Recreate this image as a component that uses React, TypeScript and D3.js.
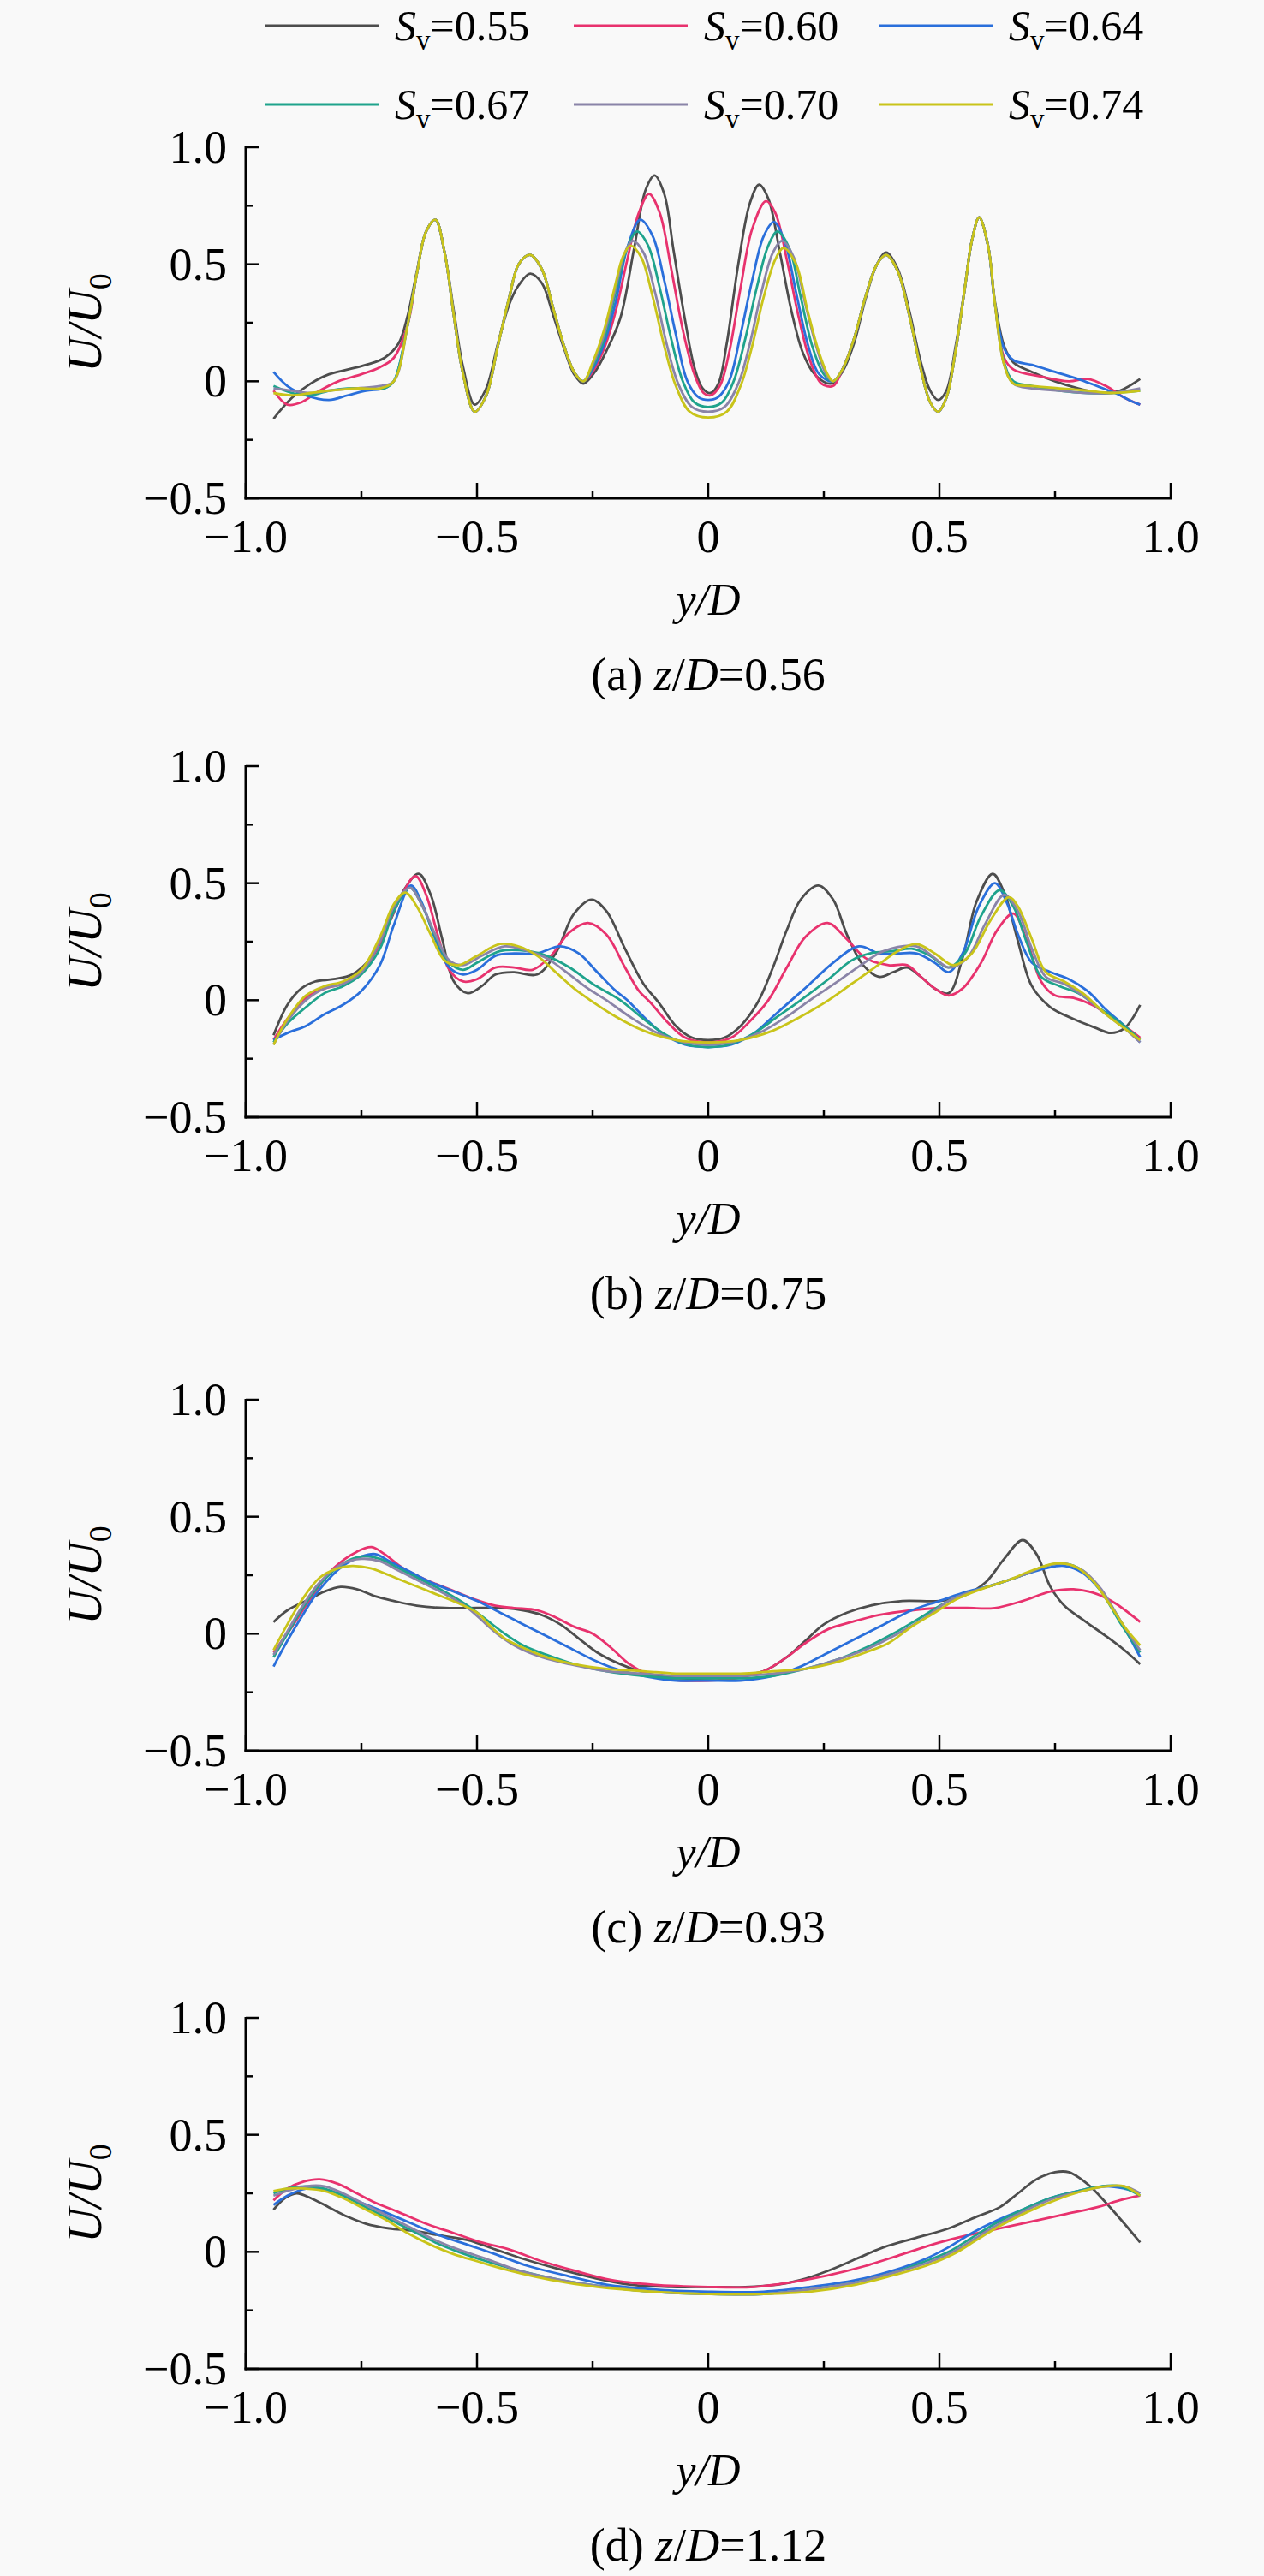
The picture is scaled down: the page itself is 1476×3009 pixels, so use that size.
import * as d3 from "d3"

type Pt = [number, number]

// legend / series
const svLabels = ["0.55", "0.60", "0.64", "0.67", "0.70", "0.74"]
const svColors = ["#4d4d4d", "#e8326e", "#2a6fdb", "#1fa38c", "#8a84a8", "#c9c41a"]

// axis ticks
const xTicksMajor = [-1, -0.5, 0, 0.5, 1]
const xTickText = ["\u22121.0", "\u22120.5", "0", "0.5", "1.0"]
const xTicksMinor = [-0.75, -0.25, 0.25, 0.75]
const yTicksMajor = [1, 0.5, 0, -0.5]
const yTickText = ["1.0", "0.5", "0", "\u22120.5"]
const yTicksMinor = [0.75, 0.25, -0.25]

// captions
const panelLetters = ["(a)", "(b)", "(c)", "(d)"]
const panelZD = ["0.56", "0.75", "0.93", "1.12"]

// ---------- (a) z/D = 0.56 ----------
const aPeaksLeft: Pt[] = [[-0.65,0.24],[-0.63,0.46],[-0.61,0.64],[-0.59,0.69],[-0.57,0.55],[-0.55,0.28],[-0.53,0.03],[-0.505,-0.13],[-0.48,-0.06],[-0.455,0.15],[-0.43,0.36],[-0.41,0.50],[-0.385,0.54],[-0.36,0.48],[-0.335,0.31],[-0.31,0.14],[-0.29,0.04],[-0.27,0.0]]
const aPeaksRight: Pt[] = [[0.29,0.05],[0.315,0.18],[0.34,0.36],[0.365,0.50],[0.385,0.54],[0.41,0.47],[0.435,0.28],[0.46,0.05],[0.48,-0.09],[0.497,-0.13],[0.515,-0.07],[0.535,0.13],[0.555,0.40],[0.57,0.60],[0.586,0.70],[0.605,0.58],[0.62,0.33]]

const a055: Pt[] = [[-0.94,-0.16],[-0.90,-0.07],[-0.86,-0.01],[-0.82,0.03],[-0.78,0.05],[-0.74,0.07],[-0.70,0.10],[-0.67,0.16],[-0.65,0.28],[-0.63,0.47],[-0.61,0.64],[-0.59,0.69],[-0.57,0.55],[-0.55,0.30],[-0.53,0.06],[-0.505,-0.10],[-0.48,-0.03],[-0.455,0.16],[-0.43,0.33],[-0.41,0.41],[-0.385,0.46],[-0.36,0.42],[-0.335,0.28],[-0.31,0.13],[-0.29,0.03],[-0.27,-0.01],[-0.245,0.04],[-0.22,0.13],[-0.19,0.27],[-0.16,0.57],[-0.135,0.82],[-0.116,0.88],[-0.095,0.80],[-0.075,0.56],[-0.05,0.26],[-0.03,0.06],[-0.012,-0.03],[0.005,-0.05],[0.022,-0.01],[0.04,0.16],[0.065,0.50],[0.09,0.76],[0.11,0.84],[0.13,0.78],[0.155,0.55],[0.18,0.30],[0.205,0.12],[0.23,0.03],[0.265,-0.01],[0.29,0.04],[0.315,0.16],[0.34,0.35],[0.365,0.50],[0.385,0.55],[0.41,0.48],[0.435,0.30],[0.46,0.08],[0.48,-0.04],[0.497,-0.08],[0.515,-0.04],[0.535,0.15],[0.555,0.40],[0.57,0.60],[0.586,0.70],[0.605,0.58],[0.62,0.34],[0.64,0.15],[0.66,0.08],[0.70,0.04],[0.75,0.0],[0.80,-0.03],[0.85,-0.05],[0.89,-0.04],[0.934,0.01]]

const a060Left: Pt[] = [[-0.94,-0.04],[-0.91,-0.10],[-0.88,-0.09],[-0.84,-0.04],[-0.80,0.0],[-0.75,0.03],[-0.71,0.06],[-0.68,0.10]]
const a060Mid: Pt[] = [[-0.25,0.04],[-0.225,0.14],[-0.20,0.30],[-0.175,0.52],[-0.15,0.72],[-0.128,0.80],[-0.105,0.72],[-0.08,0.48],[-0.055,0.22],[-0.03,0.03],[-0.01,-0.05],[0.005,-0.06],[0.025,-0.02],[0.045,0.12],[0.07,0.40],[0.095,0.65],[0.125,0.77],[0.145,0.72],[0.17,0.52],[0.195,0.28],[0.22,0.09],[0.245,-0.01],[0.27,-0.02]]
const a060Right: Pt[] = [[0.64,0.10],[0.66,0.05],[0.72,0.02],[0.78,0.0],[0.82,0.01],[0.86,-0.02],[0.90,-0.07],[0.934,-0.10]]

const a064Left: Pt[] = [[-0.94,0.04],[-0.91,-0.02],[-0.87,-0.06],[-0.82,-0.08],[-0.78,-0.06],[-0.74,-0.04],[-0.70,-0.03],[-0.68,0.0]]
const a064Mid: Pt[] = [[-0.25,0.05],[-0.225,0.16],[-0.20,0.34],[-0.175,0.57],[-0.147,0.69],[-0.12,0.62],[-0.095,0.43],[-0.07,0.20],[-0.045,0.0],[-0.02,-0.07],[0.0,-0.08],[0.02,-0.07],[0.045,0.0],[0.07,0.20],[0.095,0.43],[0.12,0.62],[0.142,0.68],[0.165,0.60],[0.19,0.38],[0.215,0.16],[0.24,0.03],[0.27,0.0]]
const a064Right: Pt[] = [[0.64,0.14],[0.66,0.09],[0.70,0.07],[0.75,0.04],[0.80,0.01],[0.84,-0.02],[0.88,-0.05],[0.91,-0.08],[0.934,-0.10]]

const a067Left: Pt[] = [[-0.94,-0.02],[-0.90,-0.05],[-0.86,-0.06],[-0.82,-0.04],[-0.78,-0.03],[-0.74,-0.03],[-0.70,-0.03],[-0.68,0.0]]
const a067Mid: Pt[] = [[-0.25,0.06],[-0.225,0.18],[-0.20,0.38],[-0.175,0.57],[-0.154,0.64],[-0.13,0.58],[-0.105,0.40],[-0.08,0.18],[-0.055,0.0],[-0.03,-0.09],[0,-0.11],[0.03,-0.09],[0.055,0.0],[0.08,0.18],[0.105,0.40],[0.13,0.58],[0.15,0.64],[0.175,0.57],[0.20,0.36],[0.225,0.15],[0.25,0.03],[0.27,0.0]]
const a067Right: Pt[] = [[0.64,0.08],[0.66,0.0],[0.70,-0.02],[0.76,-0.04],[0.82,-0.05],[0.87,-0.05],[0.934,-0.04]]

const a070Left: Pt[] = [[-0.94,-0.03],[-0.90,-0.04],[-0.86,-0.05],[-0.82,-0.04],[-0.76,-0.03],[-0.71,-0.02],[-0.68,0.0]]
const a070Mid: Pt[] = [[-0.25,0.07],[-0.225,0.20],[-0.20,0.40],[-0.18,0.55],[-0.163,0.60],[-0.14,0.55],[-0.115,0.38],[-0.09,0.16],[-0.065,-0.01],[-0.035,-0.11],[0,-0.13],[0.035,-0.11],[0.065,-0.01],[0.09,0.16],[0.115,0.38],[0.14,0.55],[0.16,0.60],[0.185,0.53],[0.21,0.33],[0.235,0.14],[0.255,0.03],[0.27,0.0]]
const a070Right: Pt[] = [[0.64,0.07],[0.66,-0.01],[0.70,-0.03],[0.76,-0.04],[0.82,-0.05],[0.87,-0.05],[0.934,-0.03]]

const a074Left: Pt[] = [[-0.94,-0.05],[-0.90,-0.06],[-0.86,-0.05],[-0.82,-0.04],[-0.76,-0.03],[-0.71,-0.03],[-0.68,0.0]]
const a074Mid: Pt[] = [[-0.25,0.08],[-0.225,0.22],[-0.20,0.42],[-0.185,0.53],[-0.168,0.58],[-0.145,0.53],[-0.12,0.36],[-0.095,0.15],[-0.07,-0.02],[-0.04,-0.13],[0,-0.155],[0.04,-0.13],[0.07,-0.02],[0.095,0.15],[0.12,0.36],[0.145,0.52],[0.163,0.57],[0.19,0.50],[0.215,0.30],[0.24,0.12],[0.258,0.03],[0.27,0.0]]
const a074Right: Pt[] = [[0.64,0.07],[0.66,-0.01],[0.70,-0.02],[0.76,-0.03],[0.82,-0.04],[0.87,-0.05],[0.934,-0.04]]

// ---------- (b) z/D = 0.75 ----------
const b055: Pt[] = [[-0.94,-0.15],[-0.91,-0.02],[-0.88,0.05],[-0.85,0.08],[-0.81,0.09],[-0.77,0.11],[-0.73,0.18],[-0.69,0.33],[-0.655,0.48],[-0.626,0.54],[-0.60,0.45],[-0.575,0.26],[-0.55,0.08],[-0.52,0.03],[-0.49,0.06],[-0.46,0.11],[-0.42,0.12],[-0.37,0.11],[-0.33,0.20],[-0.29,0.37],[-0.252,0.43],[-0.22,0.38],[-0.18,0.22],[-0.14,0.07],[-0.107,-0.01],[-0.07,-0.11],[-0.035,-0.16],[0,-0.17],[0.035,-0.16],[0.07,-0.11],[0.107,-0.01],[0.14,0.14],[0.17,0.30],[0.20,0.43],[0.238,0.49],[0.27,0.43],[0.30,0.28],[0.335,0.15],[0.37,0.10],[0.40,0.12],[0.43,0.14],[0.46,0.10],[0.49,0.05],[0.52,0.03],[0.55,0.18],[0.58,0.42],[0.615,0.54],[0.64,0.46],[0.67,0.25],[0.70,0.06],[0.74,-0.03],[0.79,-0.08],[0.84,-0.12],[0.87,-0.14],[0.90,-0.12],[0.934,-0.02]]
const b060: Pt[] = [[-0.94,-0.17],[-0.91,-0.08],[-0.87,0.01],[-0.83,0.05],[-0.79,0.07],[-0.75,0.12],[-0.71,0.24],[-0.67,0.42],[-0.633,0.53],[-0.61,0.45],[-0.585,0.28],[-0.56,0.13],[-0.53,0.08],[-0.50,0.09],[-0.46,0.14],[-0.42,0.14],[-0.38,0.13],[-0.34,0.19],[-0.30,0.29],[-0.26,0.33],[-0.22,0.28],[-0.18,0.14],[-0.15,0.04],[-0.125,-0.01],[-0.09,-0.09],[-0.05,-0.16],[0,-0.18],[0.05,-0.16],[0.09,-0.09],[0.13,0.0],[0.17,0.14],[0.21,0.27],[0.258,0.33],[0.30,0.26],[0.34,0.18],[0.39,0.15],[0.43,0.15],[0.46,0.10],[0.49,0.05],[0.52,0.02],[0.55,0.05],[0.59,0.16],[0.625,0.30],[0.66,0.37],[0.69,0.25],[0.72,0.08],[0.75,0.02],[0.79,0.01],[0.83,-0.02],[0.87,-0.07],[0.90,-0.11],[0.934,-0.16]]
const b064: Pt[] = [[-0.94,-0.17],[-0.91,-0.14],[-0.87,-0.11],[-0.83,-0.06],[-0.79,-0.02],[-0.75,0.04],[-0.71,0.15],[-0.68,0.32],[-0.643,0.49],[-0.62,0.42],[-0.59,0.26],[-0.56,0.14],[-0.53,0.11],[-0.50,0.13],[-0.46,0.19],[-0.42,0.20],[-0.37,0.20],[-0.32,0.23],[-0.28,0.20],[-0.24,0.12],[-0.20,0.04],[-0.175,0.0],[-0.14,-0.07],[-0.10,-0.14],[-0.05,-0.19],[0,-0.20],[0.05,-0.19],[0.10,-0.14],[0.14,-0.07],[0.18,0.0],[0.22,0.07],[0.27,0.16],[0.326,0.23],[0.37,0.20],[0.41,0.20],[0.45,0.20],[0.49,0.16],[0.52,0.12],[0.55,0.20],[0.585,0.40],[0.62,0.50],[0.645,0.42],[0.67,0.28],[0.70,0.16],[0.74,0.12],[0.78,0.09],[0.82,0.04],[0.86,-0.04],[0.90,-0.11],[0.934,-0.18]]
const b067: Pt[] = [[-0.94,-0.18],[-0.91,-0.10],[-0.87,-0.03],[-0.83,0.03],[-0.79,0.06],[-0.75,0.11],[-0.71,0.22],[-0.68,0.38],[-0.645,0.48],[-0.62,0.41],[-0.59,0.27],[-0.56,0.16],[-0.53,0.13],[-0.50,0.16],[-0.45,0.21],[-0.39,0.21],[-0.35,0.19],[-0.30,0.14],[-0.25,0.07],[-0.19,0.0],[-0.14,-0.08],[-0.09,-0.15],[-0.045,-0.19],[0,-0.20],[0.045,-0.19],[0.10,-0.14],[0.15,-0.07],[0.20,0.0],[0.26,0.09],[0.31,0.17],[0.35,0.20],[0.40,0.21],[0.44,0.22],[0.48,0.19],[0.52,0.14],[0.555,0.20],[0.59,0.36],[0.63,0.47],[0.66,0.40],[0.69,0.24],[0.72,0.10],[0.76,0.06],[0.80,0.03],[0.85,-0.04],[0.90,-0.11],[0.934,-0.17]]
const b070: Pt[] = [[-0.94,-0.19],[-0.91,-0.09],[-0.87,0.0],[-0.83,0.05],[-0.79,0.07],[-0.75,0.12],[-0.71,0.25],[-0.68,0.40],[-0.645,0.48],[-0.62,0.41],[-0.59,0.28],[-0.56,0.17],[-0.53,0.15],[-0.49,0.19],[-0.44,0.23],[-0.39,0.21],[-0.35,0.18],[-0.30,0.11],[-0.26,0.05],[-0.22,0.0],[-0.17,-0.07],[-0.11,-0.14],[-0.05,-0.18],[0,-0.19],[0.05,-0.18],[0.11,-0.14],[0.17,-0.07],[0.22,0.0],[0.28,0.08],[0.33,0.15],[0.38,0.21],[0.45,0.23],[0.49,0.18],[0.52,0.14],[0.56,0.18],[0.60,0.33],[0.64,0.45],[0.67,0.38],[0.70,0.22],[0.73,0.10],[0.77,0.07],[0.81,0.02],[0.86,-0.06],[0.90,-0.12],[0.934,-0.18]]
const b074: Pt[] = [[-0.94,-0.19],[-0.91,-0.08],[-0.87,0.02],[-0.83,0.06],[-0.79,0.08],[-0.75,0.13],[-0.71,0.27],[-0.68,0.41],[-0.655,0.46],[-0.63,0.40],[-0.60,0.28],[-0.57,0.17],[-0.54,0.15],[-0.50,0.19],[-0.45,0.24],[-0.41,0.23],[-0.37,0.19],[-0.33,0.12],[-0.29,0.05],[-0.255,0.0],[-0.20,-0.07],[-0.14,-0.13],[-0.07,-0.17],[0,-0.18],[0.07,-0.17],[0.14,-0.13],[0.20,-0.07],[0.26,0.0],[0.31,0.07],[0.36,0.14],[0.41,0.21],[0.45,0.24],[0.49,0.20],[0.53,0.15],[0.57,0.20],[0.61,0.34],[0.65,0.44],[0.67,0.40],[0.70,0.26],[0.73,0.12],[0.77,0.08],[0.81,0.03],[0.86,-0.06],[0.90,-0.12],[0.934,-0.17]]

// ---------- (c) z/D = 0.93 ----------
const c055: Pt[] = [[-0.94,0.05],[-0.91,0.10],[-0.87,0.14],[-0.83,0.18],[-0.795,0.20],[-0.76,0.19],[-0.72,0.16],[-0.68,0.14],[-0.63,0.12],[-0.57,0.11],[-0.50,0.11],[-0.44,0.11],[-0.40,0.10],[-0.36,0.08],[-0.32,0.04],[-0.28,-0.02],[-0.24,-0.08],[-0.19,-0.13],[-0.13,-0.17],[-0.06,-0.19],[0,-0.19],[0.06,-0.18],[0.12,-0.16],[0.17,-0.10],[0.21,-0.03],[0.25,0.04],[0.30,0.09],[0.35,0.12],[0.42,0.14],[0.50,0.14],[0.55,0.16],[0.60,0.22],[0.64,0.32],[0.68,0.40],[0.71,0.34],[0.74,0.20],[0.77,0.12],[0.81,0.06],[0.86,-0.01],[0.90,-0.07],[0.934,-0.13]]
const c060: Pt[] = [[-0.94,-0.08],[-0.90,0.03],[-0.86,0.15],[-0.81,0.28],[-0.76,0.35],[-0.728,0.37],[-0.70,0.34],[-0.66,0.28],[-0.61,0.23],[-0.56,0.19],[-0.51,0.15],[-0.46,0.12],[-0.42,0.11],[-0.37,0.10],[-0.33,0.07],[-0.29,0.03],[-0.25,0.0],[-0.21,-0.06],[-0.17,-0.13],[-0.12,-0.18],[-0.06,-0.20],[0,-0.20],[0.06,-0.19],[0.12,-0.16],[0.17,-0.10],[0.21,-0.04],[0.26,0.02],[0.31,0.05],[0.37,0.08],[0.44,0.10],[0.50,0.11],[0.56,0.11],[0.62,0.11],[0.68,0.14],[0.74,0.18],[0.79,0.19],[0.84,0.17],[0.88,0.13],[0.934,0.05]]
const c064: Pt[] = [[-0.94,-0.14],[-0.91,-0.03],[-0.88,0.07],[-0.84,0.19],[-0.79,0.29],[-0.75,0.33],[-0.72,0.34],[-0.69,0.31],[-0.65,0.27],[-0.60,0.22],[-0.55,0.18],[-0.50,0.14],[-0.45,0.09],[-0.40,0.04],[-0.35,-0.01],[-0.30,-0.06],[-0.25,-0.11],[-0.20,-0.15],[-0.14,-0.18],[-0.07,-0.20],[0,-0.20],[0.07,-0.20],[0.14,-0.18],[0.20,-0.14],[0.26,-0.08],[0.32,-0.02],[0.38,0.04],[0.44,0.10],[0.50,0.14],[0.56,0.18],[0.62,0.21],[0.68,0.25],[0.73,0.28],[0.77,0.29],[0.81,0.26],[0.85,0.18],[0.89,0.06],[0.934,-0.10]]
const c067: Pt[] = [[-0.94,-0.10],[-0.91,0.0],[-0.88,0.10],[-0.84,0.21],[-0.79,0.30],[-0.75,0.33],[-0.71,0.32],[-0.67,0.28],[-0.62,0.23],[-0.57,0.18],[-0.52,0.12],[-0.48,0.06],[-0.44,0.0],[-0.40,-0.05],[-0.35,-0.09],[-0.29,-0.13],[-0.22,-0.16],[-0.14,-0.18],[-0.07,-0.19],[0,-0.19],[0.07,-0.19],[0.14,-0.18],[0.21,-0.15],[0.28,-0.11],[0.34,-0.06],[0.40,0.0],[0.46,0.07],[0.52,0.14],[0.57,0.18],[0.62,0.21],[0.68,0.25],[0.73,0.29],[0.77,0.30],[0.81,0.27],[0.85,0.18],[0.89,0.05],[0.934,-0.08]]
const c070: Pt[] = [[-0.94,-0.09],[-0.91,0.01],[-0.88,0.11],[-0.84,0.22],[-0.79,0.30],[-0.75,0.32],[-0.71,0.31],[-0.67,0.27],[-0.62,0.22],[-0.57,0.17],[-0.52,0.11],[-0.48,0.04],[-0.45,-0.01],[-0.41,-0.06],[-0.36,-0.10],[-0.30,-0.13],[-0.22,-0.16],[-0.14,-0.17],[-0.07,-0.18],[0,-0.18],[0.07,-0.18],[0.14,-0.17],[0.21,-0.15],[0.28,-0.11],[0.35,-0.06],[0.41,0.0],[0.47,0.07],[0.52,0.14],[0.57,0.18],[0.62,0.21],[0.68,0.25],[0.73,0.29],[0.77,0.30],[0.81,0.27],[0.85,0.19],[0.89,0.06],[0.934,-0.07]]
const c074: Pt[] = [[-0.94,-0.07],[-0.91,0.04],[-0.88,0.14],[-0.84,0.24],[-0.80,0.28],[-0.77,0.29],[-0.73,0.28],[-0.69,0.25],[-0.64,0.21],[-0.59,0.17],[-0.54,0.13],[-0.50,0.09],[-0.47,0.03],[-0.44,-0.02],[-0.40,-0.06],[-0.35,-0.10],[-0.29,-0.13],[-0.22,-0.15],[-0.14,-0.16],[-0.07,-0.17],[0,-0.17],[0.07,-0.17],[0.14,-0.16],[0.21,-0.15],[0.28,-0.12],[0.34,-0.08],[0.39,-0.04],[0.44,0.03],[0.49,0.09],[0.54,0.15],[0.59,0.19],[0.65,0.23],[0.70,0.27],[0.75,0.30],[0.79,0.29],[0.83,0.23],[0.87,0.12],[0.90,0.03],[0.934,-0.05]]

// ---------- (d) z/D = 1.12 ----------
const d055: Pt[] = [[-0.94,0.18],[-0.915,0.23],[-0.89,0.25],[-0.86,0.23],[-0.82,0.19],[-0.78,0.15],[-0.74,0.12],[-0.69,0.10],[-0.64,0.09],[-0.58,0.07],[-0.52,0.05],[-0.46,0.01],[-0.40,-0.03],[-0.33,-0.07],[-0.25,-0.11],[-0.17,-0.14],[-0.08,-0.15],[0,-0.15],[0.08,-0.15],[0.15,-0.14],[0.20,-0.12],[0.26,-0.08],[0.32,-0.03],[0.38,0.02],[0.45,0.06],[0.52,0.10],[0.58,0.15],[0.63,0.19],[0.67,0.25],[0.71,0.31],[0.75,0.34],[0.78,0.34],[0.82,0.29],[0.86,0.21],[0.90,0.12],[0.934,0.04]]
const d060: Pt[] = [[-0.94,0.22],[-0.91,0.27],[-0.875,0.30],[-0.84,0.31],[-0.80,0.29],[-0.76,0.25],[-0.72,0.21],[-0.67,0.17],[-0.61,0.12],[-0.55,0.08],[-0.49,0.04],[-0.43,0.01],[-0.36,-0.04],[-0.29,-0.08],[-0.21,-0.12],[-0.12,-0.14],[0,-0.15],[0.10,-0.15],[0.18,-0.13],[0.26,-0.10],[0.34,-0.06],[0.42,-0.01],[0.50,0.04],[0.56,0.07],[0.63,0.10],[0.70,0.13],[0.77,0.16],[0.84,0.19],[0.89,0.22],[0.934,0.24]]
const d064: Pt[] = [[-0.94,0.20],[-0.91,0.24],[-0.87,0.27],[-0.84,0.27],[-0.80,0.25],[-0.75,0.21],[-0.70,0.17],[-0.64,0.12],[-0.58,0.07],[-0.52,0.03],[-0.46,-0.01],[-0.39,-0.06],[-0.31,-0.10],[-0.22,-0.14],[-0.12,-0.16],[0,-0.17],[0.12,-0.17],[0.22,-0.15],[0.32,-0.12],[0.40,-0.08],[0.47,-0.03],[0.52,0.02],[0.57,0.08],[0.62,0.13],[0.68,0.18],[0.74,0.23],[0.80,0.26],[0.86,0.28],[0.90,0.27],[0.934,0.25]]
const d067: Pt[] = [[-0.94,0.25],[-0.91,0.27],[-0.87,0.28],[-0.83,0.27],[-0.79,0.24],[-0.74,0.19],[-0.69,0.14],[-0.64,0.09],[-0.59,0.04],[-0.54,0.0],[-0.48,-0.04],[-0.41,-0.08],[-0.32,-0.12],[-0.22,-0.15],[-0.12,-0.17],[0,-0.18],[0.12,-0.18],[0.22,-0.16],[0.32,-0.13],[0.40,-0.09],[0.47,-0.04],[0.52,0.0],[0.57,0.06],[0.62,0.12],[0.68,0.18],[0.74,0.23],[0.80,0.26],[0.85,0.28],[0.89,0.28],[0.934,0.24]]
const d070: Pt[] = [[-0.94,0.24],[-0.91,0.26],[-0.87,0.28],[-0.83,0.28],[-0.79,0.25],[-0.74,0.20],[-0.69,0.15],[-0.64,0.10],[-0.59,0.05],[-0.54,0.01],[-0.48,-0.03],[-0.41,-0.08],[-0.32,-0.12],[-0.22,-0.15],[-0.12,-0.17],[0,-0.18],[0.12,-0.18],[0.22,-0.16],[0.32,-0.13],[0.40,-0.09],[0.47,-0.05],[0.53,0.0],[0.58,0.06],[0.63,0.12],[0.69,0.18],[0.75,0.23],[0.81,0.26],[0.86,0.28],[0.90,0.28],[0.934,0.25]]
const d074: Pt[] = [[-0.94,0.26],[-0.91,0.27],[-0.87,0.27],[-0.83,0.26],[-0.79,0.23],[-0.75,0.19],[-0.70,0.14],[-0.65,0.08],[-0.60,0.03],[-0.55,-0.01],[-0.50,-0.04],[-0.43,-0.08],[-0.34,-0.12],[-0.24,-0.15],[-0.12,-0.17],[0,-0.18],[0.12,-0.18],[0.22,-0.17],[0.32,-0.14],[0.40,-0.10],[0.47,-0.06],[0.53,-0.01],[0.58,0.05],[0.63,0.11],[0.69,0.17],[0.75,0.22],[0.81,0.26],[0.86,0.28],[0.90,0.28],[0.934,0.24]]

const panelA: Pt[][] = [
  a055,
  [...a060Left, ...aPeaksLeft, ...a060Mid, ...aPeaksRight, ...a060Right],
  [...a064Left, ...aPeaksLeft, ...a064Mid, ...aPeaksRight, ...a064Right],
  [...a067Left, ...aPeaksLeft, ...a067Mid, ...aPeaksRight, ...a067Right],
  [...a070Left, ...aPeaksLeft, ...a070Mid, ...aPeaksRight, ...a070Right],
  [...a074Left, ...aPeaksLeft, ...a074Mid, ...aPeaksRight, ...a074Right],
]
const panelSeries: Pt[][][] = [
  panelA,
  [b055, b060, b064, b067, b070, b074],
  [c055, c060, c064, c067, c070, c074],
  [d055, d060, d064, d067, d070, d074],
]

// layout
const W = 1476
const H = 3009
const panelTops = [172, 895, 1635, 2357]
const plotH = 410
const plotLeft = 287
const plotRight = 1367
const serif = "'Liberation Serif', 'Times New Roman', Times, serif"

const x = d3.scaleLinear().domain([-1, 1]).range([plotLeft, plotRight])

function Panel({ idx }: { idx: number }) {
  const top = panelTops[idx]
  const y = d3.scaleLinear().domain([-0.5, 1]).range([top + plotH, top])
  const line = d3
    .line<Pt>()
    .x((d) => x(d[0]))
    .y((d) => y(d[1]))
    .curve(d3.curveCatmullRom.alpha(0.5))
  const bottom = y(-0.5)
  const midY = (y(1) + y(-0.5)) / 2

  return (
    <g>
      {/* curves */}
      {panelSeries[idx].map((s, i) => (
        <path key={i} d={line(s) || ""} fill="none" stroke={svColors[i]} strokeWidth={2.8} strokeLinejoin="round" />
      ))}

      {/* axes */}
      <line x1={plotLeft} x2={plotLeft} y1={y(1) - 1} y2={bottom + 1.5} stroke="#000" strokeWidth={3} />
      <line x1={plotLeft - 1.5} x2={plotRight + 1.5} y1={bottom} y2={bottom} stroke="#000" strokeWidth={3} />

      {yTicksMajor.map((t, i) => (
        <g key={"ym" + t}>
          <line x1={plotLeft} x2={plotLeft + 15} y1={y(t)} y2={y(t)} stroke="#000" strokeWidth={2.5} />
          <text x={plotLeft - 22} y={y(t) + 18} textAnchor="end" fontSize={54} fontFamily={serif}>
            {yTickText[i]}
          </text>
        </g>
      ))}
      {yTicksMinor.map((t) => (
        <line key={"yn" + t} x1={plotLeft} x2={plotLeft + 8} y1={y(t)} y2={y(t)} stroke="#000" strokeWidth={2.5} />
      ))}
      {xTicksMajor.map((t, i) => (
        <g key={"xm" + t}>
          <line x1={x(t)} x2={x(t)} y1={bottom} y2={bottom - 18} stroke="#000" strokeWidth={2.5} />
          <text x={x(t)} y={bottom + 63} textAnchor="middle" fontSize={54} fontFamily={serif}>
            {xTickText[i]}
          </text>
        </g>
      ))}
      {xTicksMinor.map((t) => (
        <line key={"xn" + t} x1={x(t)} x2={x(t)} y1={bottom} y2={bottom - 9} stroke="#000" strokeWidth={2.5} />
      ))}

      {/* axis titles */}
      <text transform={`translate(118,${midY}) rotate(-90)`} textAnchor="middle" fontSize={56} fontFamily={serif} fontStyle="italic">
        U/U<tspan fontStyle="normal" fontSize={38} dy={12}>0</tspan>
      </text>
      <text x={x(0)} y={top + 546} textAnchor="middle" fontSize={52} fontFamily={serif} fontStyle="italic">
        y/D
      </text>

      {/* caption */}
      <text x={x(0)} y={top + 634} textAnchor="middle" fontSize={54} fontFamily={serif}>
        {panelLetters[idx]} <tspan fontStyle="italic">z</tspan>/<tspan fontStyle="italic">D</tspan>={panelZD[idx]}
      </text>
    </g>
  )
}

function Legend() {
  const colX = [309, 670, 1026]
  const rowY = [30, 122]
  return (
    <g>
      {svLabels.map((lab, i) => {
        const cx = colX[i % 3]
        const cy = rowY[Math.floor(i / 3)]
        return (
          <g key={lab}>
            <line x1={cx} x2={cx + 133} y1={cy} y2={cy} stroke={svColors[i]} strokeWidth={3} />
            <text x={cx + 152} y={cy + 17} fontSize={50} fontFamily={serif}>
              <tspan fontStyle="italic">S</tspan>
              <tspan fontSize={33} dy={11}>v</tspan>
              <tspan dy={-11}>={lab}</tspan>
            </text>
          </g>
        )
      })}
    </g>
  )
}

export default function App() {
  return (
    <div style={{ position: "absolute", left: 0, top: 0, width: W, height: H }}>
      <svg width={W} height={H} viewBox={`0 0 ${W} ${H}`} style={{ display: "block" }}>
        <rect x={0} y={0} width={W} height={H} fill="#f9f9f9" />
        <Legend />
        {panelTops.map((_, i) => (
          <Panel key={i} idx={i} />
        ))}
      </svg>
    </div>
  )
}
